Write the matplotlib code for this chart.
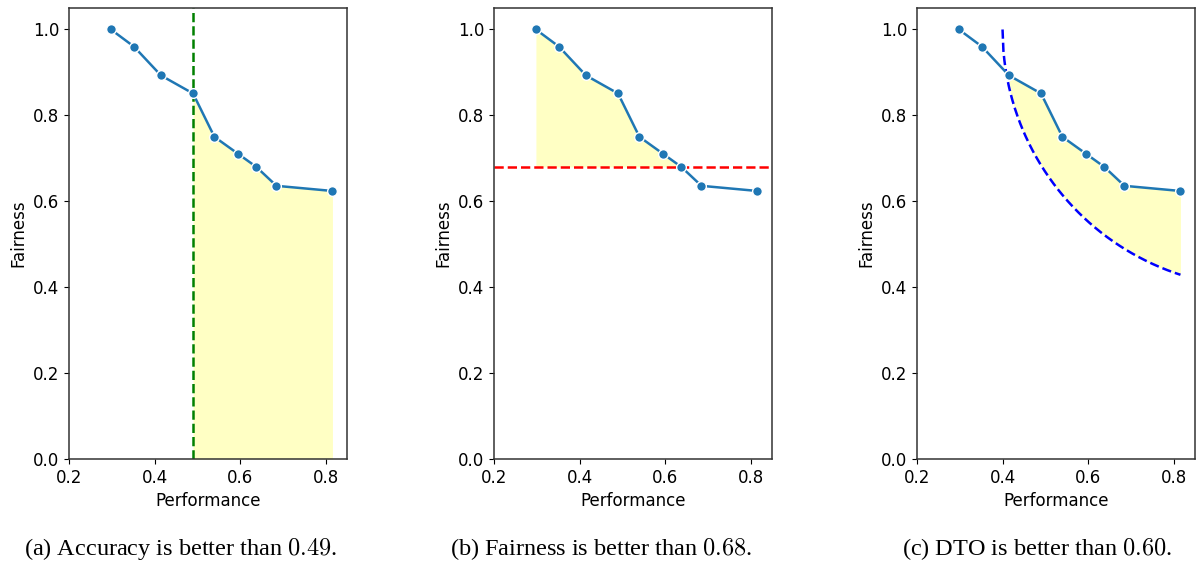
import numpy as np
from matplotlib import pyplot

performance = [0.298, 0.352, 0.415, 0.49, 0.540, 0.596, 0.638, 0.685, 0.816]
fairness = [1.0, 0.96, 0.893, 0.851, 0.75, 0.71, 0.68, 0.636, 0.624]
acc_threshold = 0.49
fair_threshold = 0.68
dto_threshold = 0.60
captions = ["(a) Accuracy is better than $0.49$.",
            "(b) Fairness is better than $0.68$.",
            "(c) DTO is better than $0.60$."]

pyplot.rcParams["mathtext.fontset"] = "cm"
fig = pyplot.figure(figsize=(11.96, 5.61), dpi=100)
lefts = [69, 494, 917]
axes = [fig.add_axes([l / 1196, 102 / 561, 278 / 1196, 451 / 561]) for l in lefts]

x = np.array(performance)
y = np.array(fairness)
fill_color = "#ffffc4"

for ax in axes:
    ax.plot(x, y, color="#1f77b4", linewidth=1.8, marker="o", markersize=7,
            markeredgecolor="white", markeredgewidth=1, zorder=3)
    ax.set_xlim(0.2, 0.85)
    ax.set_ylim(0, 1.05)
    ax.set_xticks([0.2, 0.4, 0.6, 0.8])
    ax.set_xlabel("Performance", fontsize=12)
    ax.set_ylabel("Fairness", fontsize=12)
    ax.tick_params(labelsize=12)
    for s in ax.spines.values():
        s.set_color("#333333")
        s.set_linewidth(1.1)

# (a) accuracy threshold
ax = axes[0]
mask = x >= acc_threshold
ax.fill_between(x[mask], y[mask], 0, color=fill_color, linewidth=0)
ax.axvline(acc_threshold, color="green", linestyle="--", linewidth=1.8)

# (b) fairness threshold
ax = axes[1]
mask = y >= fair_threshold
ax.fill_between(x[mask], y[mask], fair_threshold, color=fill_color, linewidth=0)
ax.axhline(fair_threshold, color="red", linestyle="--", linewidth=1.8)

# (c) distance to optimum (1, 1)
ax = axes[2]
cx = np.linspace(1 - dto_threshold, x[-1], 200)
cy = 1 - np.sqrt(dto_threshold ** 2 - (1 - cx) ** 2)
ax.plot(cx, cy, color="blue", linestyle="--", linewidth=1.8)
gx = np.linspace(x[2], x[-1], 200)
gy = np.interp(gx, x, y)
gc = 1 - np.sqrt(dto_threshold ** 2 - (1 - gx) ** 2)
ax.fill_between(gx, gy, gc, where=gy >= gc, color=fill_color, linewidth=0)

for cx_px, cap in zip([180, 601, 1037], captions):
    fig.text(cx_px / 1196, 6 / 561, cap, ha="center", va="baseline",
             fontsize=17.5, family="Liberation Serif")

pyplot.savefig("out.png", dpi=100)
